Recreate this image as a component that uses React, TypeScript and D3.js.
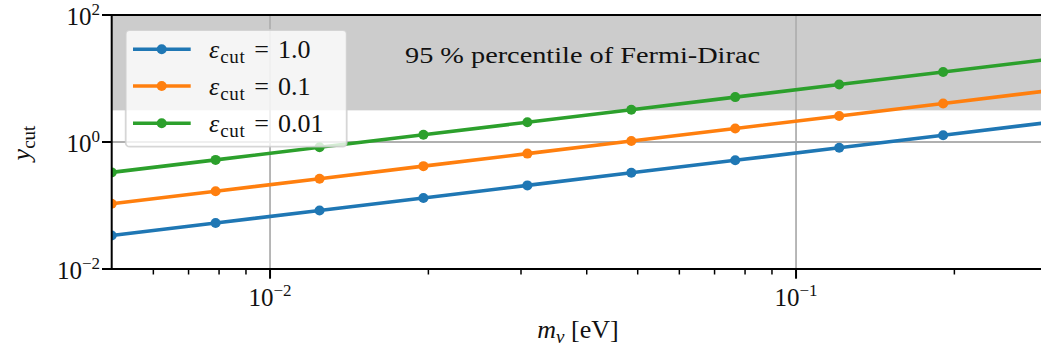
import React from "react";
import * as d3 from "d3";

const massValues = [0.005, 0.00788, 0.01242, 0.01957, 0.03085, 0.04862, 0.07663, 0.1208, 0.1904, 0.3];
const seriesLabels = ["1.0", "0.1", "0.01"];
const seriesColors = ["#1f77b4", "#ff7f0e", "#2ca02c"];
const blueValues = [0.0336, 0.053, 0.0835, 0.1316, 0.2074, 0.327, 0.515, 0.812, 1.279, 2.016];
const orangeValues = [0.1064, 0.1677, 0.2643, 0.4166, 0.6566, 1.035, 1.631, 2.571, 4.052, 6.386];
const greenValues = [0.332, 0.523, 0.825, 1.3, 2.049, 3.229, 5.09, 8.022, 12.64, 19.93];
const bandLower = 3.15;
const bandUpper = 100;
const bandLabel = "95 % percentile of Fermi-Dirac";
const xMajorTicks = [0.01, 0.1];
const xMajorExp = ["−2", "−1"];
const xMinorTicks = [0.006, 0.007, 0.008, 0.009, 0.02, 0.03, 0.04, 0.05, 0.06, 0.07, 0.08, 0.09, 0.2, 0.3];
const yMajorTicks = [0.01, 1, 100];
const yMajorExp = ["−2", "0", "2"];

const W = 1041;
const H = 356;
const L = 111.7;
const R = 1047;
const T = 15;
const B = 269;
const FONT = "Liberation Serif, Times New Roman, DejaVu Serif, serif";

export default function App() {
  const x = d3.scaleLog().domain([0.005, 0.3]).range([L, R]);
  const y = d3.scaleLog().domain([0.01, 100]).range([B, T]);
  const series = [blueValues, orangeValues, greenValues];
  const line = d3
    .line<number>()
    .x((_, i) => x(massValues[i]))
    .y((d) => y(d));

  const legendRows = [49.3, 86, 123.3];

  return (
    <svg
      width={W}
      height={H}
      style={{ position: "absolute", left: 0, top: 0, background: "#fff", fontFamily: FONT }}
    >
      <defs>
        <clipPath id="plotclip">
          <rect x={L} y={T} width={R - L} height={B - T} />
        </clipPath>
      </defs>
      <rect x={0} y={0} width={W} height={H} fill="#fff" />
      {/* band */}
      <rect
        x={L}
        y={y(bandUpper)}
        width={R - L}
        height={y(bandLower) - y(bandUpper)}
        fill="#cccccc"
      />
      {/* grid */}
      {xMajorTicks.map((t) => (
        <line key={"gx" + t} x1={x(t)} x2={x(t)} y1={T} y2={B} stroke="#b0b0b0" strokeWidth={1.8} />
      ))}
      {yMajorTicks.map((t) => (
        <line key={"gy" + t} x1={L} x2={R} y1={y(t)} y2={y(t)} stroke="#b0b0b0" strokeWidth={1.8} />
      ))}
      {/* band label */}
      <text
        x={405}
        y={63.3}
        fontSize={24}
        fill="#111"
        textLength={355}
        lengthAdjust="spacingAndGlyphs"
        style={{ fontFamily: FONT }}
      >
        {bandLabel}
      </text>
      {/* series */}
      <g clipPath="url(#plotclip)">
        {series.map((vals, si) => (
          <g key={"s" + si}>
            <path d={line(vals) || ""} fill="none" stroke={seriesColors[si]} strokeWidth={3.6} />
            {vals.map((v, i) => (
              <circle key={i} cx={x(massValues[i])} cy={y(v)} r={5} fill={seriesColors[si]} />
            ))}
          </g>
        ))}
      </g>
      {/* legend */}
      <rect
        x={125.7}
        y={30}
        width={221}
        height={116.7}
        rx={4}
        fill="#ffffff"
        fillOpacity={0.8}
        stroke="#cccccc"
        strokeOpacity={0.8}
        strokeWidth={1.8}
      />
      {seriesLabels.map((lab, i) => (
        <g key={"lg" + i}>
          <line x1={133} x2={190.7} y1={legendRows[i]} y2={legendRows[i]} stroke={seriesColors[i]} strokeWidth={3.6} />
          <circle cx={161.7} cy={legendRows[i]} r={5} fill={seriesColors[i]} />
          <text x={209} y={legendRows[i] + 9} fontSize={26} fill="#111" style={{ fontFamily: FONT }}>
            <tspan fontStyle="italic">ε</tspan>
            <tspan dy={5} dx={1} fontSize={19} letterSpacing={0.6}>cut</tspan>
            <tspan dy={-5} dx={9}>=</tspan>
            <tspan dx={9}>{lab}</tspan>
          </text>
        </g>
      ))}
      {/* spines */}
      <line x1={L} x2={L} y1={T} y2={B} stroke="#000" strokeWidth={2} />
      <line x1={L - 1} x2={W} y1={B} y2={B} stroke="#000" strokeWidth={2} />
      <line x1={L - 1} x2={W} y1={T} y2={T} stroke="#000" strokeWidth={2} />
      {/* x ticks */}
      {xMajorTicks.map((t, i) => (
        <g key={"xt" + t}>
          <line x1={x(t)} x2={x(t)} y1={B} y2={B + 9.7} stroke="#000" strokeWidth={2} />
          <text x={x(t)} y={306} fontSize={25} textAnchor="middle" fill="#111" style={{ fontFamily: FONT }}>
            <tspan>10</tspan>
            <tspan dy={-10} fontSize={17}>{xMajorExp[i]}</tspan>
          </text>
        </g>
      ))}
      {xMinorTicks.map((t) => (
        <line key={"xm" + t} x1={x(t)} x2={x(t)} y1={B} y2={B + 5.5} stroke="#000" strokeWidth={1.5} />
      ))}
      {/* y ticks */}
      {yMajorTicks.map((t, i) => (
        <g key={"yt" + t}>
          <line x1={L - 9.7} x2={L} y1={y(t)} y2={y(t)} stroke="#000" strokeWidth={2} />
          <text x={100} y={y(t) + 9.5} fontSize={25} textAnchor="end" fill="#111" style={{ fontFamily: FONT }}>
            <tspan>10</tspan>
            <tspan dy={-10} fontSize={17}>{yMajorExp[i]}</tspan>
          </text>
        </g>
      ))}
      {/* axis labels */}
      <text x={578} y={338} fontSize={26} textAnchor="middle" fill="#111" style={{ fontFamily: FONT }}>
        <tspan fontStyle="italic">m</tspan>
        <tspan dy={5} fontSize={19} fontStyle="italic">ν</tspan>
        <tspan dy={-5}>{"  [eV]"}</tspan>
      </text>
      <text
        transform="translate(30,143) rotate(-90)"
        fontSize={26}
        textAnchor="middle"
        fill="#111"
        style={{ fontFamily: FONT }}
      >
        <tspan fontStyle="italic">y</tspan>
        <tspan dy={5} fontSize={19}>cut</tspan>
      </text>
    </svg>
  );
}
